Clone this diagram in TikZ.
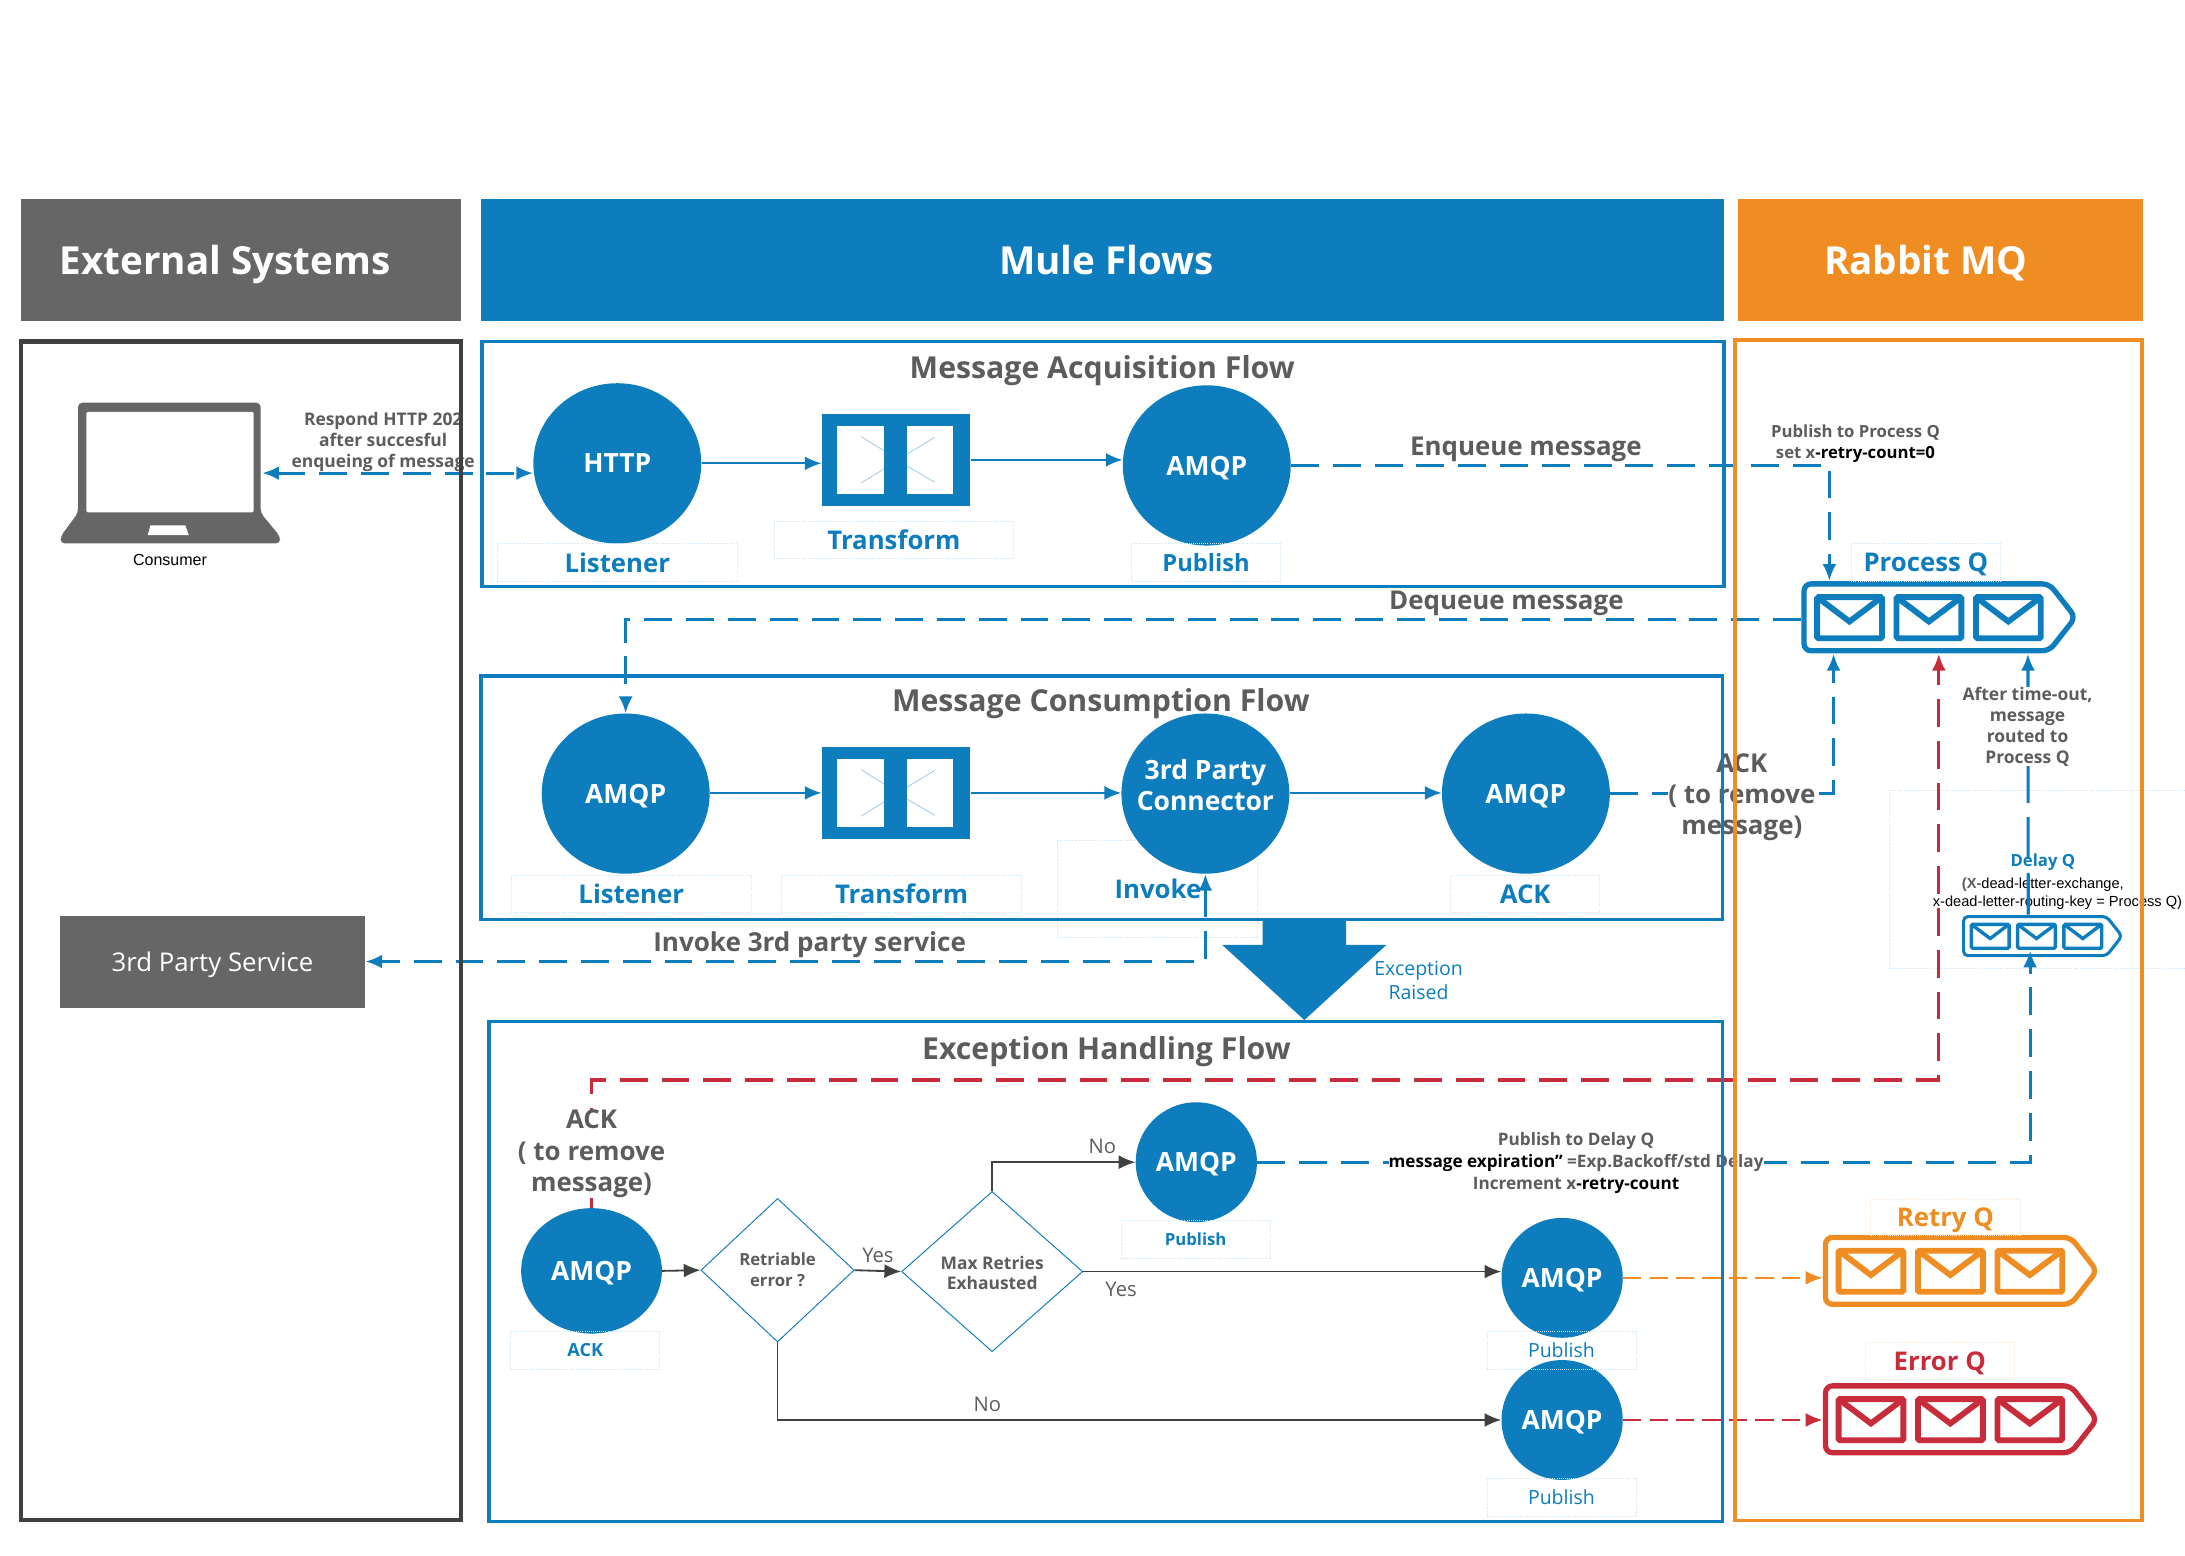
\documentclass[tikz,border=0pt]{standalone}
\usepackage{fontspec}
\setmainfont{Open Sans}
\newfontfamily\consfont{Liberation Sans}
\usetikzlibrary{shapes.geometric, arrows.meta}

\definecolor{muleblue}{HTML}{0E7DBD}
\definecolor{rabbitorange}{HTML}{EF8D22}
\definecolor{errorred}{HTML}{C82B3A}
\definecolor{boxgrey}{HTML}{666666}
\definecolor{textgrey}{HTML}{5C5C5E}
\definecolor{framegrey}{HTML}{404040}
\definecolor{faintblue}{HTML}{CFE4F2}
\definecolor{faintorange}{HTML}{F8E6D2}

% name, x, y, scale, colour
\newcommand{\drawqueue}[5]{
  \node (#1) [inner sep=0, minimum width=197.4*#4, minimum height=52*#4] at (#2+98.7*#4,#3+26*#4) {};
  \begin{scope}[shift={(#2,#3)}, scale=#4, draw=#5]
    \draw[line width=3.8*#4, rounded corners=5*#4] (2,2) -- (178,2) -- (196.8,26) -- (178,50) -- (2,50) -- cycle;
    \foreach \qx in {9.4, 66.4, 123.4} {
      \draw[line width=4.2*#4, rounded corners=1] (\qx+2,11.5) rectangle +(46.5,29.5);
      \draw[line width=4.2*#4] (\qx+2,11.5) -- (\qx+25.2,29) -- (\qx+48.5,11.5);
    }
  \end{scope}
}

% node to draw on
\newcommand{\transformpanes}[1]{
  \begin{scope}[shift={(#1.north west)}]
    \fill[white] (11,8.8) rectangle (44.7,58);
    \fill[white] (61.2,8.8) rectangle (94.2,58);
    \draw[faintx] (28.2,16.7) -- (44.7,26.8);
    \draw[faintx] (28.2,50.2) -- (44.7,40);
    \draw[faintx] (61.2,29.4) -- (81.3,17.2);
    \draw[faintx] (61.2,37.8) -- (81.3,49.5);
  \end{scope}
}

\begin{document}
\begin{tikzpicture}[x=1pt, y=-1pt]
\tikzset{
  arrow/.style={
    >={Latex[length=12pt, width=10pt]}
  },
  line/.style={
    draw=muleblue,
    ->,
    arrow,
    line width=1.5
  },
  blackline/.style={
    draw=framegrey,
    ->,
    arrow,
    line width=1.3
  },
  dashline/.style={
    line,
    line width=2.2,
    dash pattern=on 20pt off 10pt
  },
  thindash/.style={
    ->,
    arrow,
    line width=1.5,
    dash pattern=on 13pt off 6pt
  },
  header/.style={
    inner sep=0,
    minimum height=87,
    text=white,
    text depth=0pt,
    font=\fontsize{27.7}{34}\selectfont\bfseries
  },
  frame/.style={
    draw=muleblue,
    line width=2.5
  },
  title/.style={
    text=textgrey,
    text depth=0pt,
    font=\fontsize{21.7}{25}\selectfont\bfseries
  },
  endpoint/.style={
    ellipse,
    fill=muleblue,
    inner sep=0,
    text=white,
    text depth=0pt,
    font=\fontsize{19}{22}\selectfont\bfseries
  },
  bigpoint/.style={
    endpoint,
    minimum width=120.5,
    minimum height=115
  },
  smallpoint/.style={
    endpoint,
    minimum width=87,
    minimum height=86
  },
  transformbox/.style={
    fill=muleblue,
    inner sep=0,
    minimum width=106.5,
    minimum height=66.5
  },
  faintx/.style={
    draw=faintblue!70!muleblue,
    line width=0.5
  },
  tag/.style={
    draw=faintblue,
    line width=0.5,
    densely dotted,
    inner sep=0,
    text=muleblue,
    text depth=0pt,
    minimum height=27,
    font=\fontsize{18.5}{22}\selectfont\bfseries
  },
  widetag/.style={
    tag,
    minimum width=172
  },
  narrowtag/.style={
    tag,
    minimum width=107
  },
  smalltag/.style={
    narrowtag,
    font=\fontsize{13}{16}\selectfont\bfseries
  },
  plaintag/.style={
    narrowtag,
    font=\fontsize{14}{18}\selectfont
  },
  choice/.style={
    diamond,
    draw=muleblue,
    line width=0.7,
    inner sep=0
  },
  note/.style={
    text=textgrey,
    align=center,
    inner sep=0,
    font=\fontsize{12.5}{15}\selectfont\bfseries
  },
  caption/.style={
    text=textgrey,
    align=center,
    inner sep=0,
    font=\fontsize{18.6}{22.5}\selectfont\bfseries
  },
  answer/.style={
    text=textgrey,
    inner sep=0,
    font=\fontsize{14.5}{17}\selectfont
  }
}

\useasboundingbox (0,0) rectangle (1568,1116.6);

% Headers
\node (exthead) [header, fill=boxgrey, minimum width=316] at (173,186.5) {};
\node (exttext) [header] at (161.5,186.5) {External Systems};
\node (mulehead) [header, fill=muleblue, minimum width=892] at (791,186.5) {};
\node (muletext) [header] at (794,186.5) {Mule Flows};
\node (rabbithead) [header, fill=rabbitorange, minimum width=291] at (1392.5,186.5) {};
\node (rabbittext) [header] at (1382,186.5) {Rabbit MQ};

% External systems
\node (consumer) [inner sep=0, minimum width=132, minimum height=101] at (122,339.5) {};
\fill[boxgrey, rounded corners=3] (56,368) -- (56,289) -- (187,289) -- (187,368) -- (201,385) -- (201,390) -- (43.5,390) -- (43.5,385) -- cycle;
\fill[white, rounded corners=1] (62,295.5) rectangle (182,367.7);
\fill[white] (108,377) -- (133,377) -- (135.5,384) -- (106,384) -- cycle;
\node (consumertext) [inner sep=0, font=\fontsize{11.5}{14}\selectfont\consfont] at (122,401.5) {Consumer};
\node (service) [fill=boxgrey, inner sep=0, minimum width=219, minimum height=66, text=white, text depth=0pt, font=\fontsize{18.5}{22}\selectfont] at (152.5,690) {3rd Party Service};

% Message acquisition
\node (http) [bigpoint] at (443,332.5) {HTTP};
\node (tfone) [transformbox] at (643,330) {};
\transformpanes{tfone}
\node (pubone) [bigpoint] at (866,334) {AMQP};
\node (listenone) [widetag] at (443,403.5) {Listener};
\node (tagtfone) [widetag] at (641.5,387.5) {Transform};
\node (tagpubone) [narrowtag, font=\fontsize{17}{20}\selectfont\bfseries] at (865.5,403.5) {Publish};

% Message consumption
\node (taginvoke) [tag, minimum width=143, minimum height=70] at (830.5,638) {};
\node (conamqp) [bigpoint] at (449,569.5) {AMQP};
\node (tftwo) [transformbox] at (643,569) {};
\transformpanes{tftwo}
\node (connector) [bigpoint] at (865,569.5) {};
\node (connectortext) [inner sep=0, align=center, text=white, font=\fontsize{19}{22}\selectfont\bfseries] at (865,563.5) {3rd Party\\Connector};
\node (ackamqp) [bigpoint] at (1095,569.5) {AMQP};
\node (listentwo) [widetag] at (453,641.5) {Listener};
\node (tagtftwo) [widetag] at (647,641.5) {Transform};
\node (invoketext) [inner sep=0, text=muleblue, font=\fontsize{18.5}{22}\selectfont\bfseries] at (831,638) {Invoke};
\node (tagack) [narrowtag] at (1094.5,641.5) {ACK};

% Exception handling
\node (excack) [endpoint, minimum width=101, minimum height=90] at (424.5,912) {AMQP};
\node (retriable) [choice, minimum width=110, minimum height=103] at (558,911.5) {};
\node (retriabletext) [note, font=\fontsize{12}{15}\selectfont\bfseries] at (558,911.5) {Retriable\\error ?};
\node (maxretries) [choice, minimum width=130, minimum height=115] at (712,912.5) {};
\node (maxtext) [note] at (712,913.5) {Max Retries\\Exhausted};
\node (pubdelay) [smallpoint] at (858.5,834) {AMQP};
\node (pubretry) [smallpoint] at (1121,917) {AMQP};
\node (puberror) [smallpoint] at (1121,1019) {AMQP};
\node (tagexcack) [smalltag] at (420,969) {ACK};
\node (tagpubdelay) [smalltag, font=\fontsize{12}{16}\selectfont\bfseries] at (858,889.5) {Publish};
\node (tagpubretry) [plaintag] at (1120.5,969) {Publish};
\node (tagpuberror) [plaintag] at (1120.5,1074.5) {Publish};
\fill[muleblue] (906,660) -- (966,660) -- (966,678) -- (995,678) -- (936,732) -- (877,678) -- (906,678) -- cycle;
\node (raised) [inner sep=0, align=center, text=muleblue, font=\fontsize{14}{17}\selectfont] at (1018,703.5) {Exception\\Raised};

% Queues
\drawqueue{processq}{1292.6}{417}{1}{muleblue}
\drawqueue{delayq}{1408}{656.6}{0.583}{muleblue}
\drawqueue{retryq}{1308}{886}{1}{rabbitorange}
\drawqueue{errorq}{1308}{992.5}{1}{errorred}
\node (tagprocess) [narrowtag] at (1382,403.5) {Process Q};
\node (tagretry) [narrowtag, draw=faintorange, text=rabbitorange, minimum height=26] at (1396,873.5) {Retry Q};
\node (tagerror) [narrowtag, draw=faintorange, text=errorred] at (1392,976.5) {Error Q};
\node (delaybox) [draw=faintblue, line width=0.5, densely dotted, inner sep=0, minimum width=212, minimum height=128] at (1462,631) {};
\node (delaytext) [inner sep=0, text=muleblue, font=\fontsize{12}{14}\selectfont\bfseries] at (1466,619) {Delay Q};
\node (delayone) [inner sep=0, font=\fontsize{10.5}{13}\selectfont\consfont] at (1466,635) {\textcolor{textgrey}{\bfseries (X}-dead-letter-exchange,};
\node (delaytwo) [inner sep=0, font=\fontsize{10.5}{13}\selectfont\consfont] at (1476.5,648) {x-dead-letter-routing-key = Process Q)};

% Connectors
\draw[dashline, <->] (consumer.east) -- (consumer.east -| http.west);
\draw[line] (http.east) -- (http.east -| tfone.west);
\draw[line] (tfone.east) -- (pubone.west |- tfone.east);
\draw[dashline] (pubone.east) -| ([xshift=20.4pt]processq.north west);
\draw[dashline] ([yshift=-1.5pt]processq.west) -| (conamqp.north);
\draw[line] (conamqp.east |- tftwo.west) -- (tftwo.west);
\draw[line] (tftwo.east) -- (tftwo.east -| connector.west);
\draw[line] (connector.east |- tftwo.east) -- (ackamqp.west |- tftwo.east);
\draw[dashline] (ackamqp.east) -| ([xshift=23.4pt]processq.south west);
\draw[dashline, <->] (connector.south) |- (service.east);
\draw[dashline, errorred, dash phase=8pt] (excack.north) |- (1391.3,775) -- (processq.south);
\draw[dashline] (pubdelay.east) -| ([xshift=49pt, yshift=5pt]delayq.south west);
\draw[dashline, dash pattern=on 30pt off 10pt] (delayq.north -| 1455.5,0) -- ([xshift=162.9pt]processq.south west);
\draw[blackline] (excack.east) -- (retriable.west);
\draw[blackline] (retriable.east) -- (maxretries.west);
\draw[blackline] (maxretries.north) |- (pubdelay.west);
\draw[blackline] (maxretries.east) -- (maxretries.east -| pubretry.west);
\draw[blackline] (retriable.south) |- (puberror.west);
\draw[thindash, draw=rabbitorange] (pubretry.east) -- (pubretry.east -| retryq.west);
\draw[thindash, draw=errorred] (puberror.east) -- (puberror.east -| errorq.west);

% Connector labels
\node (respond) [note] at (275,317) {Respond HTTP 202\\after succesful\\enqueing of message};
\node (enqueue) [caption, text depth=0pt] at (1095,320) {Enqueue message};
\node (dequeue) [caption, text depth=0pt] at (1081,431) {Dequeue message};
\node (pubprocess) [note, font=\fontsize{12}{15}\selectfont\bfseries] at (1331.5,318.5) {Publish to Process Q\\set x\textcolor{black}{-retry-count=0}};
\node (aftertime) [note, fill=white] at (1455,521.5) {After time-out,\\message\\routed to\\Process Q};
\node (ackremove) [caption, fill=white] at (1250,572) {ACK\\( to remove\\message)};
\node (invokeservice) [caption, text depth=0pt, font=\fontsize{18.7}{22}\selectfont\bfseries] at (581,675.5) {Invoke 3rd party service};
\node (ackexc) [caption, fill=white] at (424.5,828) {ACK\\( to remove\\message)};
\node (pubnote) [note, fill=white, font=\fontsize{12.3}{16}\selectfont\bfseries] at (1131,834.5) {Publish to Delay Q\\\textcolor{black}{message expiration"} =Exp.Backoff/std Delay\\Increment x\textcolor{black}{-retry-count}};
\node (yesone) [answer] at (630,901) {Yes};
\node (yestwo) [answer] at (804.5,925) {Yes};
\node (noone) [answer] at (791,823) {No};
\node (notwo) [answer] at (708.5,1008) {No};

% Frames
\node (extframe) [draw=framegrey, line width=3, inner sep=0, minimum width=316, minimum height=846] at (173,668) {};
\node (acqframe) [frame, inner sep=0, minimum width=891, minimum height=176] at (791.5,333) {};
\node (acqtitle) [title] at (791,263.5) {Message Acquisition Flow};
\node (conframe) [frame, inner sep=0, minimum width=891, minimum height=175] at (790.5,572.5) {};
\node (contitle) [title] at (790,502.5) {Message Consumption Flow};
\node (excframe) [frame, inner sep=0, minimum width=885, minimum height=359] at (793.5,912.5) {};
\node (exctitle) [title] at (794,752) {Exception Handling Flow};
\node (rabbitframe) [draw=rabbitorange, line width=2.5, inner sep=0, minimum width=292, minimum height=847] at (1391,667.5) {};

\end{tikzpicture}
\end{document}
